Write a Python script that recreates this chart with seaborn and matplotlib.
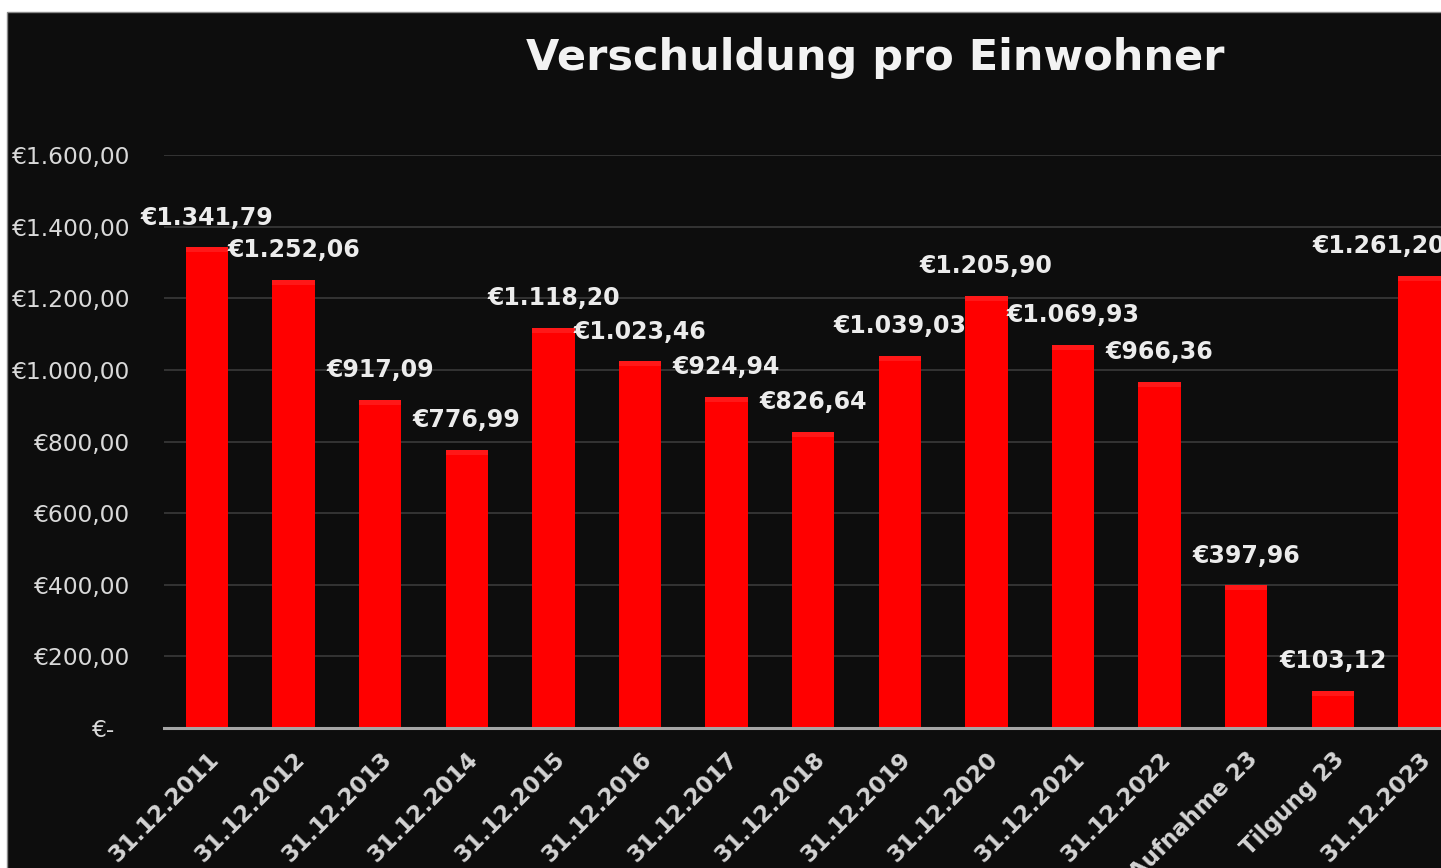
import matplotlib
matplotlib.use("Agg")
import matplotlib.pyplot as plt
from matplotlib.patches import Rectangle
import seaborn as sns
import pandas as pd

# Schulden je Einwohner (Euro)
categories = [
    "31.12.2011", "31.12.2012", "31.12.2013", "31.12.2014", "31.12.2015",
    "31.12.2016", "31.12.2017", "31.12.2018", "31.12.2019", "31.12.2020",
    "31.12.2021", "31.12.2022", "Aufnahme 23", "Tilgung 23", "31.12.2023",
]
values = [
    1341.79, 1252.06, 917.09, 776.99, 1118.20,
    1023.46, 924.94, 826.64, 1039.03, 1205.90,
    1069.93, 966.36, 397.96, 103.12, 1261.20,
]
y_ticks = [0, 200, 400, 600, 800, 1000, 1200, 1400, 1600]


def euro(v):
    s = f"{v:,.2f}".replace(",", "X").replace(".", ",").replace("X", ".")
    return f"€{s}"


sns.set_theme(style="dark")
plt.rcParams["font.family"] = ["DejaVu Sans"]

W, H = 1441, 868
fig = plt.figure(figsize=(W / 100, H / 100), dpi=100, facecolor="white")
bg = "#0d0d0d"
fig.patches.append(Rectangle((7 / W, -0.01), 1.0, 1.01 - 12 / H,
                             transform=fig.transFigure, facecolor=bg,
                             edgecolor="#8a8a8a", linewidth=1.0, zorder=-10))

ax = fig.add_axes([163.7 / W, 140 / H, 1299 / W, 573 / H])
ax.set_facecolor(bg)

df = pd.DataFrame({"Stichtag": categories, "Betrag": values})
sns.barplot(data=df, x="Stichtag", y="Betrag", color="#ff0000",
            saturation=1, width=0.49, ax=ax, zorder=3,
            edgecolor="none", linewidth=0)

# dezenter Glanz an der Oberkante jedes Balkens
for i, v in enumerate(values):
    ax.bar(i, 14, bottom=v - 14, width=0.49, color="#ff7070", alpha=0.22,
           linewidth=0, zorder=3.5)

ax.set_xlim(-0.5, len(categories) - 0.5)
ax.set_ylim(0, 1600)
ax.set_yticks(y_ticks)
ax.set_yticklabels([euro(t) if t else "€-" for t in y_ticks])
ax.grid(axis="y", color="#363636", linewidth=1.3, zorder=0)
ax.grid(axis="x", visible=False)
for side in ["top", "right", "left"]:
    ax.spines[side].set_visible(False)
ax.spines["bottom"].set_color("#a6a6a6")
ax.spines["bottom"].set_linewidth(2.2)
ax.spines["bottom"].set_zorder(4)

ax.tick_params(axis="y", length=0, pad=24, labelsize=16.8, labelcolor="#d9d9d9")
ax.tick_params(axis="x", length=0, pad=14, labelsize=16.5, labelcolor="#d4d4d4")
for lab in ax.get_yticklabels():
    if lab.get_text() == "€-":
        lab.set_x(-0.0115)
for lab in ax.get_xticklabels():
    lab.set_rotation(45)
    lab.set_ha("right")
    lab.set_rotation_mode("anchor")
    lab.set_fontweight("bold")
ax.set_xlabel("")
ax.set_ylabel("")

# Datenbeschriftungen über den Balken
for i, v in enumerate(values):
    dx = -29 if i == len(values) - 1 else 0
    ax.annotate(euro(v), (i, v), xytext=(dx, 21.5), textcoords="offset points",
                ha="center", va="center", fontsize=17, fontweight="bold",
                color="#ececec", zorder=5, annotation_clip=False)

fig.text(875 / W, 1 - 58 / H, "Verschuldung pro Einwohner", ha="center",
         va="center", fontsize=31, fontweight="bold", color="#f2f2f2")

fig.savefig("out.png", dpi=100, facecolor=fig.get_facecolor())
